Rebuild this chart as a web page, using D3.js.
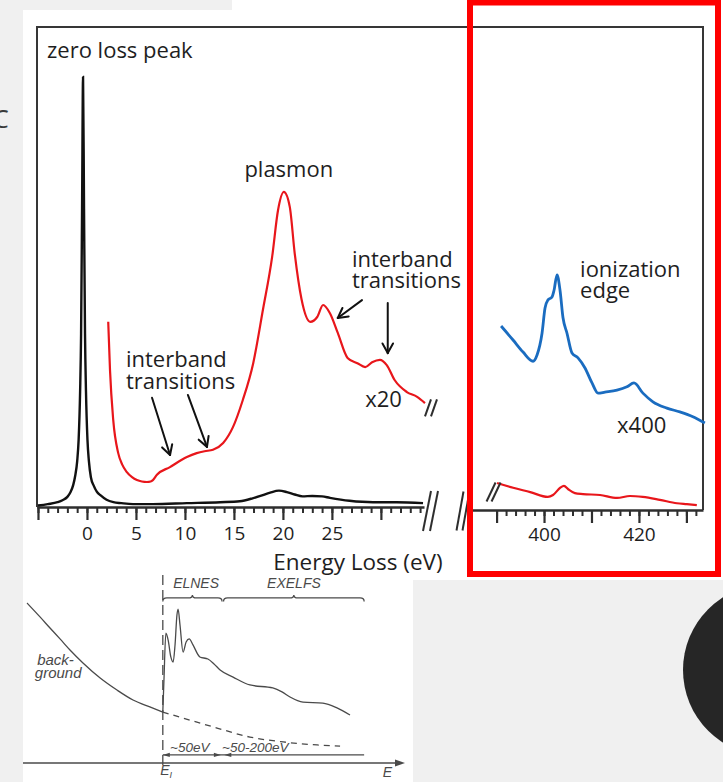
<!DOCTYPE html>
<html>
<head>
<meta charset="utf-8">
<script src="https://cdn.jsdelivr.net/npm/d3@7"></script>
<style>
  html, body { margin: 0; padding: 0; background: #f0f0f0; overflow: hidden; }
  svg { display: block; }
</style>
</head>
<body>
<svg id="chart" width="723" height="782"></svg>
<script>
// ---------- EELS spectrum data ----------
// Low-loss spectrum (zero-loss peak + plasmon), energy in eV, intensity in arbitrary units
const lowLossEnergy = [-5.0, -4.0, -3.0, -2.5, -2.0, -1.7, -1.4, -1.2, -1.0, -0.85, -0.7, -0.6, -0.5, -0.4,
  -0.3, -0.2, -0.1, 0.05, 0.2, 0.4, 0.7, 1.0, 1.4, 2.0, 2.7, 3.5, 4.7, 6.7, 10.2, 13.6, 15.6, 16.9, 17.7,
  18.7, 19.6, 20.4, 21.2, 22.0, 23.0, 24.0, 24.8, 26.8, 29.2, 31.6, 34.3];
const lowLossIntensity = [0.3, 0.6, 1.0, 1.4, 2.1, 3.0, 4.6, 6.5, 9.5, 14, 24, 36, 62, 89.4,
  62, 36, 24, 14, 9.5, 6.2, 4.4, 3.2, 2.4, 1.5, 1.0, 0.8, 0.6, 0.6, 0.8, 1.0, 1.2, 1.8, 2.3,
  3.0, 3.4, 3.1, 2.6, 2.2, 2.3, 2.2, 1.9, 1.3, 1.0, 1.0, 0.8];

// Low-loss region magnified x20
const lowLossX20Energy = [2.17, 2.35, 2.68, 3.19, 3.6, 4.05, 4.6, 5.1, 5.6, 6.12, 6.5, 6.73, 7.14, 8.47,
  10.2, 11.2, 12.0, 12.86, 13.9, 14.9, 15.9, 16.97, 17.96, 18.9, 19.5, 20.1, 20.7, 21.2, 21.9, 22.8,
  23.5, 24.1, 24.8, 25.6, 26.6, 27.6, 28.4, 29.1, 29.9, 30.6, 31.4, 32.65, 33.7, 34.5];
const lowLossX20Intensity = [38.5, 28.5, 18.1, 11.2, 8.8, 7.3, 6.2, 5.6, 5.3, 5.2, 5.3, 5.6, 6.7, 8.3,
  10.4, 11.2, 11.6, 11.9, 13.3, 16.6, 22.2, 29.9, 41, 52, 61.7, 65.5, 62.4, 52.8, 43.2, 38.5,
  39.5, 42, 40.3, 36.2, 31, 29.9, 29.1, 30.1, 30.6, 29.5, 26.4, 23.9, 22.9, 21.6];

// Core-loss region (x20 trace continued)
const coreLossEnergy = [390.1, 393.5, 397.1, 400.8, 401.9, 403.4, 404.2, 405.1, 406.5, 408.2, 411.8,
  415.4, 418.1, 420.8, 424.4, 428.0, 430.1, 432.2];
const coreLossIntensity = [5.6, 4.6, 3.7, 2.7, 3.1, 4.6, 5.0, 4.3, 3.5, 3.3, 3.1,
  2.5, 2.9, 2.7, 2.1, 1.4, 1.2, 1.0];

// Ionization edge magnified x400
const edgeX400Energy = [390.95, 393.47, 395.58, 397.68, 398.53, 399.58, 400.21, 400.84, 401.68, 402.11,
  402.74, 403.37, 404.0, 404.84, 405.89, 407.16, 408.63, 410.11, 411.37, 412.84, 415.37, 417.47,
  418.95, 420.84, 422.95, 425.89, 428.63, 431.37, 433.89];
const edgeX400Intensity = [38.1, 35.2, 32.7, 30.8, 32.1, 36.6, 41.8, 43.5, 44.1, 45.5,
  48.7, 45.5, 39.8, 36.6, 32.5, 31.5, 29.4, 26.3, 24.2, 24.4, 24.8, 25.5,
  26.3, 24.2, 22.4, 21.1, 20.3, 19.3, 18.0];

// Axis ticks
const lowMinorTicks = d3.range(-5, 35, 1);
const lowMajorTicks = [-5, 0, 5, 10, 15, 20, 25, 30];
const lowTickLabels = [0, 5, 10, 15, 20, 25];
const coreMinorTicks = d3.range(390, 433, 2);
const coreMajorTicks = [390, 400, 410, 420, 430];
const coreTickLabels = [400, 420];

// Schematic core-loss edge (arbitrary energy / intensity units)
const bgEnergy = [1.05, 4.45, 7.07, 9.69, 12.3, 15.7, 20.2, 24.6, 28.8, 33.2, 36.6];
const bgIntensity = [85.1, 77.7, 71.8, 66.0, 60.1, 53.2, 45.2, 38.8, 33.5, 29.8, 27.1];
const bgExtrapEnergy = [36.6, 41.9, 50.8, 59.4, 68.1, 77.0, 83.0];
const bgExtrapIntensity = [27.1, 23.9, 18.6, 13.8, 11.2, 9.6, 9.0];
const edgeEnergy = [36.6, 36.9, 37.4, 38.0, 38.7, 39.3, 39.8, 40.3, 40.6, 41.1, 41.9, 42.7, 43.5, 44.5,
  46.3, 48.4, 50.0, 51.6, 55.0, 59.4, 65.4, 67.8, 69.9, 73.3, 78.5, 82.2, 85.6];
const edgeIntensity = [27.1, 44.1, 69.1, 65.4, 56.4, 53.7, 62.8, 78.7, 81.9, 73.4, 59.0, 64.4, 66.0, 62.8,
  56.4, 55.3, 52.7, 49.5, 45.7, 41.5, 39.9, 37.8, 35.1, 32.4, 31.9, 29.3, 25.5];
const edgeOnset = 36.6;
const elnesEnd = 52.1;
const exelfsEnd = 89.3;

// ---------- drawing ----------
const svg = d3.select("#chart");
const TEXT = "#1e1e1e";
const FONT = "'Open Sans', 'Noto Sans', sans-serif";
const LABEL_SIZE = 22;
const zip = (a, b) => a.map((v, i) => [v, b[i]]);

// page panels
svg.append("rect").attr("x", 232).attr("y", 0).attr("width", 491).attr("height", 580).attr("fill", "#fff");
svg.append("rect").attr("x", 23).attr("y", 10).attr("width", 447).attr("height", 568).attr("fill", "#fff");
svg.append("rect").attr("x", 23).attr("y", 577).attr("width", 390).attr("height", 205).attr("fill", "#fff");
svg.append("circle").attr("cx", 769).attr("cy", 670).attr("r", 86).attr("fill", "#262626");
svg.append("text").attr("x", -7).attr("y", 128).attr("font-family", FONT).attr("font-size", 25)
  .attr("fill", "#3a3a3a").text("C");

// scales
const xL = d3.scaleLinear().domain([-5.1, 34.4]).range([37, 424]);
const xR = d3.scaleLinear().domain([384.4, 433.5]).range([470, 703]);
const yL = d3.scaleLinear().domain([0, 100]).range([507, 26]);
const yR = d3.scaleLinear().domain([0, 100]).range([510, 27]);

const lineGen = (x, y) => d3.line().x(d => x(d[0])).y(d => y(d[1])).curve(d3.curveMonotoneX);

// frame
const frame = svg.append("g").attr("stroke", "#363636").attr("stroke-width", 2).attr("fill", "none");
frame.append("path").attr("d", `M${xL.range()[0]},${yL(0)}V${yL.range()[1] + 1}H${xR.range()[1]}V${yR(0)}`);

// axes
function drawAxis(x, y0, minor, major, labels, pad) {
  const g = svg.append("g").attr("transform", `translate(0,${y0})`);
  g.append("g").call(d3.axisBottom(x).tickValues(minor).tickSize(6).tickSizeOuter(0).tickFormat(""))
    .call(s => s.select(".domain").attr("stroke", "#2e2e2e").attr("stroke-width", 2.5))
    .call(s => s.selectAll(".tick line").attr("stroke", "#2e2e2e").attr("stroke-width", 2));
  g.append("g").call(d3.axisBottom(x).tickValues(major).tickSize(13).tickSizeOuter(0).tickPadding(pad)
      .tickFormat(d => labels.includes(d) ? d : ""))
    .call(s => s.select(".domain").remove())
    .call(s => s.selectAll(".tick line").attr("stroke", "#2e2e2e").attr("stroke-width", 2.2))
    .call(s => s.selectAll(".tick text").attr("font-family", FONT).attr("font-size", 19).attr("fill", TEXT));
}
drawAxis(xL, yL(0), lowMinorTicks, lowMajorTicks, lowTickLabels, 7);
drawAxis(xR, yR(0), coreMinorTicks, coreMajorTicks, coreTickLabels, 5);

svg.append("text").attr("x", 358).attr("y", 570).attr("text-anchor", "middle")
  .attr("font-family", FONT).attr("font-size", 22.5).attr("fill", TEXT).text("Energy Loss (eV)");

// spectra
svg.append("path").datum(zip(lowLossEnergy, lowLossIntensity))
  .attr("d", lineGen(xL, yL)).attr("fill", "none").attr("stroke", "#111").attr("stroke-width", 2.4);
svg.append("path").datum(zip(lowLossX20Energy, lowLossX20Intensity))
  .attr("d", lineGen(xL, yL)).attr("fill", "none").attr("stroke", "#e8161b").attr("stroke-width", 2.2);
svg.append("path").datum(zip(coreLossEnergy, coreLossIntensity))
  .attr("d", lineGen(xR, yR)).attr("fill", "none").attr("stroke", "#e8161b").attr("stroke-width", 2.2);
svg.append("path").datum(zip(edgeX400Energy, edgeX400Intensity))
  .attr("d", lineGen(xR, yR)).attr("fill", "none").attr("stroke", "#1a6cc0").attr("stroke-width", 2.8);

// break marks
function slashes(cx, cy, h, dx, gap) {
  const g = svg.append("g").attr("stroke", "#2e2e2e").attr("stroke-width", 2).attr("fill", "none");
  [0, gap].forEach(o => {
    g.append("line").attr("x1", cx + o - dx / 2).attr("y1", cy + h / 2)
      .attr("x2", cx + o + dx / 2).attr("y2", cy - h / 2);
  });
}
slashes(xL(34.5) + 3, yL(20.6), 17, 6, 6);            // end of x20 trace
slashes(xL.range()[1] + 3, yL(0) + 4, 40, 8, 7);      // axis break, low-loss side
slashes(xR.range()[0] - 10, yR(0) + 1, 39, 7, 6);     // axis break, core-loss side
slashes(xR(390.1) - 6, yR(5.6) + 9, 19, 9, 5);        // start of core-loss trace

// annotations
function label(x, y, lines, anchor, lead) {
  const t = svg.append("text").attr("x", x).attr("y", y).attr("text-anchor", anchor)
    .attr("font-family", FONT).attr("font-size", LABEL_SIZE).attr("fill", TEXT);
  lines.forEach((s, i) => t.append("tspan").attr("x", x).attr("dy", i === 0 ? 0 : lead).text(s));
}
label(xL(-4.08), yL(93.3), ["zero loss peak"], "start", 0);
label(xL(20.6), yL(68.6), ["plasmon"], "middle", 0);
label(xL(3.98), yL(29.1), ["interband", "transitions"], "start", 22);
label(xL(27.04), yL(49.9), ["interband", "transitions"], "start", 21);
label(xL(28.4), yL(20.8), ["x20"], "start", 0);
label(xR(407.6), yR(48.2), ["ionization", "edge"], "start", 21);
label(xR(415.4), yR(15.9), ["x400"], "start", 0);

function arrow(x1, y1, x2, y2) {
  const g = svg.append("g").attr("stroke", "#111").attr("stroke-width", 2).attr("fill", "none")
    .attr("stroke-linecap", "round");
  g.append("line").attr("x1", x1).attr("y1", y1).attr("x2", x2).attr("y2", y2);
  const a = Math.atan2(y2 - y1, x2 - x1), len = 11, spread = 0.5;
  [a + Math.PI - spread, a + Math.PI + spread].forEach(b => {
    g.append("line").attr("x1", x2).attr("y1", y2)
      .attr("x2", x2 + len * Math.cos(b)).attr("y2", y2 + len * Math.sin(b));
  });
}
arrow(xL(6.64), yL(22.7), xL(8.48), yL(10.8));
arrow(xL(10.3), yL(23.3), xL(12.25), yL(12.5));
arrow(xL(28.07), yL(43.0), xL(25.6), yL(39.3));
arrow(xL(30.7), yL(42.4), xL(30.7), yL(32.0));

// ---------- schematic of a core-loss edge ----------
const xs = d3.scaleLinear().domain([0, 100]).range([23, 405]);
const ys = d3.scaleLinear().domain([0, 100]).range([763, 575]);
const INK = "#4a4a4a";
const sk = svg.append("g").attr("fill", "none").attr("stroke", INK).attr("stroke-width", 1.3);

// energy axis with arrow
sk.append("line").attr("x1", xs(0)).attr("y1", ys(0)).attr("x2", xs(99)).attr("y2", ys(0));
svg.append("path").attr("d", `M${xs(100)},${ys(0)}l-10,-3.5v7z`).attr("fill", INK);

// onset line
sk.append("line").attr("x1", xs(edgeOnset)).attr("y1", ys(-1)).attr("x2", xs(edgeOnset)).attr("y2", ys(100))
  .attr("stroke-dasharray", "10,5");

const sLine = d3.line().x(d => xs(d[0])).y(d => ys(d[1])).curve(d3.curveMonotoneX);
sk.append("path").datum(zip(bgEnergy, bgIntensity)).attr("d", sLine);
sk.append("path").datum(zip(bgExtrapEnergy, bgExtrapIntensity)).attr("d", sLine).attr("stroke-dasharray", "6,5");
sk.append("path").datum(zip(edgeEnergy, edgeIntensity)).attr("d", sLine);

// braces
function brace(e0, e1) {
  const x0 = xs(e0), x1 = xs(e1), xm = (x0 + x1) / 2, y = ys(87.8);
  sk.append("path").attr("d",
    `M${x0},${y + 3.5}Q${x0},${y} ${x0 + 4},${y}H${xm - 4}Q${xm},${y} ${xm},${y - 3}Q${xm},${y} ${xm + 4},${y}H${x1 - 4}Q${x1},${y} ${x1},${y + 3.5}`);
}
brace(edgeOnset, elnesEnd);
brace(elnesEnd + 0.4, exelfsEnd);

// range arrows
const yA = ys(4.3);
sk.append("line").attr("x1", xs(edgeOnset)).attr("y1", yA).attr("x2", xs(exelfsEnd)).attr("y2", yA);
[[edgeOnset, 1], [elnesEnd - 0.3, -1], [elnesEnd + 0.6, 1]].forEach(([e, dir]) => {
  svg.append("path").attr("d", `M${xs(e)},${yA}l${dir * 7},-2.2v4.4z`).attr("fill", INK);
});

function skText(e, v, str, size) {
  return svg.append("text").attr("x", xs(e)).attr("y", ys(v)).attr("font-family", "'Liberation Sans', Arial, sans-serif")
    .attr("font-style", "italic").attr("font-size", size).attr("fill", INK).text(str);
}
skText(39.3, 93.1, "ELNES", 14);
skText(63.9, 93.1, "EXELFS", 14);
skText(3.7, 52.1, "back-", 15);
skText(3.1, 45.0, "ground", 15);
skText(38.5, 5.6, "~50eV", 13.5);
skText(52.1, 5.6, "~50-200eV", 13.5);
const eI = skText(35.9, -6.4, "E", 14);
eI.append("tspan").attr("dy", 2.5).attr("font-size", 9).text("I");
skText(94.2, -7.5, "E", 14);

// highlight box
svg.append("rect").attr("x", 470).attr("y", 2.5).attr("width", 248).attr("height", 571.5)
  .attr("fill", "none").attr("stroke", "#ff0000").attr("stroke-width", 6);
</script>
</body>
</html>
